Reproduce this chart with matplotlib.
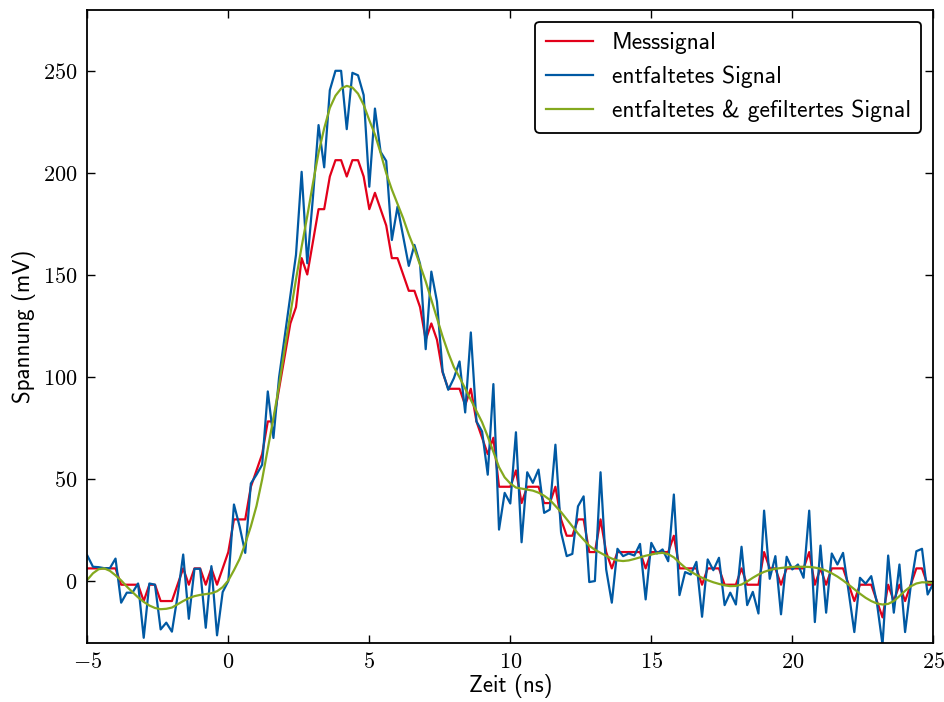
import numpy as np
import matplotlib
matplotlib.use("Agg")
import matplotlib.pyplot as plt
from matplotlib.ticker import FuncFormatter

# Zeitachse: Abtastung alle 0.2 ns von -5 bis 25 ns
zeit = np.round(np.arange(151) * 0.2 - 5.0, 1)

# Messsignal (mV), 8-mV-Stufen des Oszilloskops
messsignal = [
    6.4, 6.4, 6.4, 6.4, 6.4,
    6.4, -1.6, -1.6, -1.6, -1.6,
    -9.6, -1.6, -1.6, -9.6, -9.6,
    -9.6, -1.6, 6.4, -1.6, 6.4,
    6.4, -1.6, 6.4, -1.6, 6.4,
    14.4, 30.4, 30.4, 30.4, 46.4,
    54.4, 62.4, 78.4, 78.4, 94.4,
    110.4, 126.4, 134.4, 158.4, 150.4,
    166.4, 182.4, 182.4, 198.4, 206.4,
    206.4, 198.4, 206.4, 206.4, 198.4,
    182.4, 190.4, 182.4, 174.4, 158.4,
    158.4, 150.4, 142.4, 142.4, 134.4,
    118.4, 126.4, 118.4, 102.4, 94.4,
    94.4, 94.4, 86.4, 94.4, 78.4,
    70.4, 62.4, 70.4, 46.4, 46.4,
    46.4, 54.4, 38.4, 46.4, 46.4,
    46.4, 38.4, 38.4, 46.4, 30.4,
    22.4, 22.4, 30.4, 30.4, 14.4,
    14.4, 30.4, 14.4, 6.4, 14.4,
    14.4, 14.4, 14.4, 14.4, 6.4,
    14.4, 14.4, 14.4, 14.4, 22.4,
    6.4, 6.4, 6.4, 6.4, -1.6,
    6.4, 6.4, 6.4, -1.6, -1.6,
    -1.6, 6.4, -1.6, -1.6, -1.6,
    14.4, 6.4, 6.4, -1.6, 6.4,
    6.4, 6.4, 6.4, 14.4, -1.6,
    6.4, -1.6, 6.4, 6.4, 6.4,
    -1.6, -9.6, -1.6, -1.6, -1.6,
    -9.6, -17.6, -1.6, -9.6, -1.6,
    -9.6, -1.6, 6.4, 6.4, -1.6,
    -1.6,
]

# entfaltetes Signal (mV)
entfaltet = [
    12.7, 7.2, 7.0, 6.5, 6.5,
    11.2, -10.4, -5.5, -5.5, -1.0,
    -27.6, -1.0, -1.6, -23.5, -20.2,
    -24.6, -7.2, 13.2, -18.3, 6.2,
    6.2, -22.7, 7.5, -26.4, -5.2,
    0.2, 37.7, 27.0, 14.0, 48.0,
    52.3, 57.2, 93.1, 70.3, 100.0,
    120.0, 140.0, 160.0, 200.7, 155.9,
    188.0, 223.6, 202.9, 240.7, 250.2,
    250.2, 221.6, 249.2, 248.0, 238.3,
    193.4, 231.7, 210.5, 206.0, 167.3,
    183.6, 169.0, 154.6, 164.9, 155.6,
    113.8, 151.8, 137.1, 102.9, 93.9,
    99.6, 107.8, 82.8, 122.0, 78.4,
    73.5, 52.3, 96.7, 25.4, 43.4,
    38.2, 73.1, 19.2, 53.5, 48.3,
    54.8, 33.6, 35.2, 67.0, 24.1,
    12.4, 13.5, 36.8, 41.7, -0.3,
    0.2, 53.5, 5.9, -10.4, 16.0,
    12.4, 13.7, 12.7, 18.4, -8.8,
    18.9, 13.7, 15.7, 9.9, 42.6,
    -6.7, 4.6, 3.4, 9.6, -17.3,
    10.8, 5.5, 11.6, -11.6, -5.5,
    -11.3, 17.0, -11.6, -5.1, -15.7,
    34.7, 1.3, 12.4, -16.1, 12.1,
    5.9, 8.3, 1.8, 34.7, -19.9,
    17.6, -15.3, 13.7, 8.3, 14.0,
    -5.2, -24.8, 1.8, -1.1, 2.6,
    -10.4, -31.0, 12.7, -15.3, 8.3,
    -24.8, -2.3, 14.8, 16.0, -6.4,
    -1.0,
]

# entfaltetes & gefiltertes Signal (mV)
gefiltert = [
    0.8, 4.0, 6.0, 6.4, 5.2,
    3.0, 0.5, -2.5, -5.2, -7.8,
    -10.0, -11.8, -13.0, -13.6, -13.4,
    -12.8, -11.2, -9.6, -8.2, -7.2,
    -6.6, -6.2, -5.8, -4.8, -2.8,
    0.5, 5.5, 11.0, 18.5, 27.0,
    37.0, 50.0, 65.0, 80.0, 96.0,
    114.0, 131.0, 148.0, 164.0, 179.0,
    195.0, 210.0, 222.0, 232.0, 238.0,
    241.5, 242.8, 242.0, 239.0, 233.5,
    226.0, 219.0, 210.0, 200.0, 192.0,
    185.0, 178.0, 170.0, 163.0, 155.0,
    147.0, 138.0, 129.0, 120.0, 112.0,
    105.0, 100.0, 94.5, 89.0, 83.5,
    78.0, 71.0, 63.5, 56.0, 51.0,
    48.0, 46.0, 45.5, 45.0, 44.5,
    43.5, 42.0, 40.0, 37.0, 34.0,
    30.5, 27.0, 23.5, 20.5, 17.5,
    15.5, 14.0, 12.5, 11.2, 10.3,
    10.0, 10.3, 11.0, 11.8, 12.6,
    13.2, 13.8, 14.0, 13.4, 11.8,
    9.2, 6.8, 4.8, 3.2, 1.8,
    0.6, -0.4, -1.2, -1.9, -2.3,
    -2.2, -1.5, 0.0, 1.8, 3.4,
    4.7, 5.6, 6.2, 6.6, 6.9,
    7.1, 7.2, 7.2, 7.1, 6.8,
    6.2, 5.3, 4.0, 2.4, 0.5,
    -1.6, -3.8, -6.0, -8.0, -9.6,
    -10.8, -11.3, -11.0, -9.6, -7.2,
    -4.6, -2.4, -1.0, -0.4, -0.5,
    -0.8,
]

labels = ["Messsignal", "entfaltetes Signal", "entfaltetes & gefiltertes Signal"]
farben = ["#E2001A", "#0059A3", "#84A91E"]

plt.rcParams["mathtext.fontset"] = "cm"

fig = plt.figure(figsize=(9.45, 7.02), dpi=100)
ax = fig.add_axes([0.0924, 0.0845, 0.8952, 0.9013])

for y, lab, col in zip([messsignal, entfaltet, gefiltert], labels, farben):
    ax.plot(zeit, y, color=col, lw=1.6, label=lab)

ax.set_xlim(-5, 25)
ax.set_ylim(-30, 280)
ax.set_xticks(np.arange(-5, 26, 5))
ax.set_yticks(np.arange(0, 251, 50))
ax.xaxis.set_major_formatter(FuncFormatter(lambda v, p: r"$%d$" % v))
ax.yaxis.set_major_formatter(FuncFormatter(lambda v, p: r"$%d$" % v))
ax.tick_params(direction="in", top=True, right=True, length=6, width=1,
               labelsize=16, pad=7)
for s in ax.spines.values():
    s.set_linewidth(1.3)

ax.set_xlabel("Zeit (ns)", family="cmss10", fontsize=16.5, labelpad=1)
ax.set_ylabel("Spannung (mV)", family="cmss10", fontsize=16.5, labelpad=5)

leg = ax.legend(loc="upper right", prop={"family": "cmss10", "size": 17},
                fancybox=True, framealpha=1, handlelength=2.0,
                handletextpad=0.8, borderpad=0.45,
                borderaxespad=0.5, labelspacing=0.48)
leg.get_frame().set_edgecolor("black")
leg.get_frame().set_linewidth(1.3)

fig.savefig("out.png", dpi=100)
